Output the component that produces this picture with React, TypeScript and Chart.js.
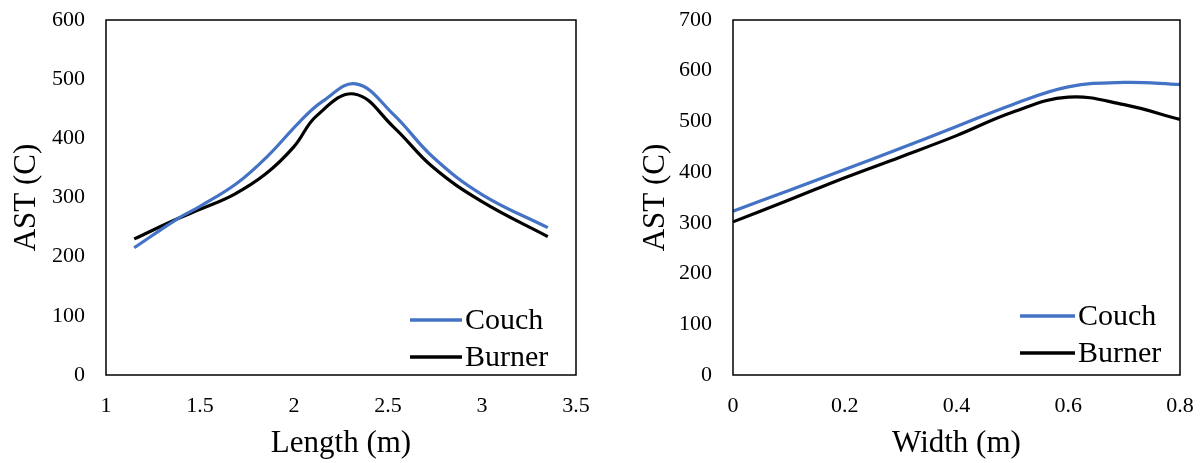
import React, { useEffect, useRef } from "react";
import { Chart, registerables } from "chart.js";

Chart.register(...registerables);

const seriesNames = ["Couch", "Burner"];
const seriesColors = ["#4472C4", "#000000"];

// Left panel: AST vs Length
const lengthCouchX = [1.15, 1.38, 1.5, 1.7, 1.86, 2.03, 2.15, 2.33, 2.53, 2.74, 3.0, 3.35];
const lengthCouchY = [215, 264, 285, 325, 370, 428, 462, 492, 440, 368, 305, 249];
const lengthBurnerX = [1.15, 1.38, 1.5, 1.68, 1.85, 2.0, 2.12, 2.32, 2.53, 2.74, 3.0, 3.35];
const lengthBurnerY = [230, 264, 280, 305, 340, 386, 438, 475, 419, 351, 293, 234];

// Right panel: AST vs Width
const widthX = [0, 0.1, 0.2, 0.3, 0.4, 0.5, 0.6, 0.7, 0.8];
const widthCouchY = [323, 364, 405, 447, 490, 533, 568, 577, 573];
const widthBurnerY = [302, 345, 389, 430, 472, 518, 548, 533, 504];

const FONT = "'Liberation Serif', 'Times New Roman', serif";

const pts = (xs: number[], ys: number[]) => xs.map((x, i) => ({ x, y: ys[i] }));

const frameLegendPlugin = {
  id: "frameLegend",
  afterDatasetsDraw(chart: any, _args: any, opts: any) {
    const { ctx, chartArea: a } = chart;
    ctx.save();
    ctx.strokeStyle = "#000";
    ctx.lineWidth = 1.5;
    ctx.strokeRect(a.left, a.top, a.right - a.left, a.bottom - a.top);
    ctx.font = `30px ${FONT}`;
    ctx.textBaseline = "middle";
    ctx.textAlign = "left";
    chart.data.datasets.forEach((ds: any, i: number) => {
      const y = a.bottom + opts.rowY[i];
      ctx.strokeStyle = ds.borderColor;
      ctx.lineWidth = 3.5;
      ctx.beginPath();
      ctx.moveTo(a.right + opts.lineX0, y);
      ctx.lineTo(a.right + opts.lineX1, y);
      ctx.stroke();
      ctx.fillStyle = "#000";
      ctx.fillText(ds.label, a.right + opts.textX, y + 1);
    });
    ctx.restore();
  },
};

function makeConfig(p: {
  data: { x: number; y: number }[][];
  xMin: number; xMax: number; xStep: number;
  yMax: number;
  xTitle: string;
  yWidth: number;
  yTitlePad: number;
  padRight: number;
  legend: any;
}) {
  return {
    type: "line" as const,
    data: {
      datasets: p.data.map((d, i) => ({
        label: seriesNames[i],
        data: d,
        borderColor: seriesColors[i],
        backgroundColor: seriesColors[i],
        borderWidth: 3.2,
        pointRadius: 0,
        tension: 0.4,
        fill: false,
      })),
    },
    options: {
      animation: false,
      responsive: false,
      devicePixelRatio: 1,
      layout: { padding: { top: 20, right: p.padRight, bottom: 0, left: 0 } },
      plugins: {
        legend: { display: false },
        tooltip: { enabled: false },
        frameLegend: p.legend,
      },
      scales: {
        x: {
          type: "linear",
          min: p.xMin,
          max: p.xMax,
          grid: { display: false, drawTicks: false },
          border: { display: false },
          ticks: {
            stepSize: p.xStep,
            color: "#000",
            font: { family: FONT, size: 22 },
            padding: 18,
            maxRotation: 0,
            callback: (v: number) => String(Math.round(v * 10) / 10),
          },
          title: {
            display: true,
            text: p.xTitle,
            color: "#000",
            font: { family: FONT, size: 31 },
            padding: { top: 0, bottom: 1 },
          },
          afterFit: (s: any) => { s.height = 88; s.paddingLeft = 0; s.paddingRight = 0; },
        },
        y: {
          type: "linear",
          min: 0,
          max: p.yMax,
          grid: { display: false, drawTicks: false },
          border: { display: false },
          ticks: {
            stepSize: 100,
            color: "#000",
            font: { family: FONT, size: 22 },
            padding: 21,
          },
          title: {
            display: true,
            text: "AST (C)",
            color: "#000",
            font: { family: FONT, size: 31 },
            padding: { top: p.yTitlePad, bottom: 0 },
          },
          afterFit: (s: any) => { s.width = p.yWidth; s.paddingTop = 0; s.paddingBottom = 0; },
        },
      },
    },
    plugins: [frameLegendPlugin],
  };
}

function Panel({ cfg }: { cfg: any }) {
  const ref = useRef<HTMLCanvasElement | null>(null);
  useEffect(() => {
    if (!ref.current) return;
    const chart = new Chart(ref.current, cfg);
    return () => chart.destroy();
  }, [cfg]);
  return <canvas ref={ref} width={600} height={463} style={{ width: 600, height: 463, display: "block" }} />;
}

const leftCfg = makeConfig({
  data: [pts(lengthCouchX, lengthCouchY), pts(lengthBurnerX, lengthBurnerY)],
  xMin: 1, xMax: 3.5, xStep: 0.5, yMax: 600,
  xTitle: "Length (m)", yWidth: 106, yTitlePad: 8, padRight: 24,
  legend: { rowY: [-55, -18], lineX0: -166, lineX1: -114, textX: -111 },
});

const rightCfg = makeConfig({
  data: [pts(widthX, widthCouchY), pts(widthX, widthBurnerY)],
  xMin: 0, xMax: 0.8, xStep: 0.2, yMax: 700,
  xTitle: "Width (m)", yWidth: 133, yTitlePad: 37, padRight: 20,
  legend: { rowY: [-59, -22], lineX0: -160, lineX1: -105, textX: -102 },
});

export default function App() {
  return (
    <div style={{ position: "fixed", left: 0, top: 0, width: 1200, height: 463, display: "flex", background: "#fff" }}>
      <Panel cfg={leftCfg} />
      <Panel cfg={rightCfg} />
    </div>
  );
}
